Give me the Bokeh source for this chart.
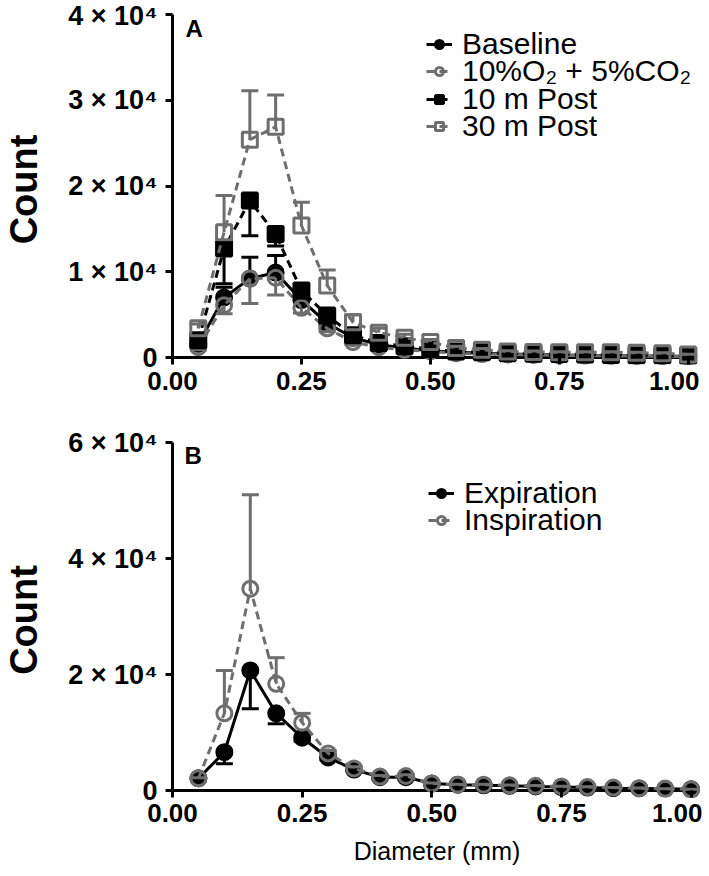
from bokeh.plotting import figure
from bokeh.layouts import column
from bokeh.models import Range1d, FixedTicker, Legend, LegendItem, Label
from bokeh.embed import file_html
from bokeh.resources import INLINE

# ---------------- data ----------------
diameter = [0.05, 0.10, 0.15, 0.20, 0.25, 0.30, 0.35, 0.40, 0.45, 0.50,
            0.55, 0.60, 0.65, 0.70, 0.75, 0.80, 0.85, 0.90, 0.95, 1.00]

# Panel A
baseline = [1600, 7000, 9200, 9900, 6700, 4000, 2300, 1500, 1100, 800,
            600, 500, 400, 350, 300, 250, 200, 200, 150, 150]
baseline_err = [300, 1200, 2500, 2000, 800, 500, 300, 200, 150, 100,
                100, 80, 60, 50, 50, 40, 40, 30, 30, 30]
hypox = [1200, 6100, 9200, 9300, 5800, 3400, 1800, 1200, 900, 700,
         500, 400, 350, 300, 250, 200, 200, 150, 150, 100]
hypox_err = [300, 1000, 2900, 2000, 600, 400, 300, 200, 150, 100,
             80, 60, 50, 50, 40, 40, 30, 30, 30, 20]
post10 = [2000, 12700, 18300, 14400, 7800, 4900, 2600, 1700, 1300, 1000,
          700, 600, 500, 450, 400, 350, 300, 250, 250, 200]
post10_err = [500, 4100, 4100, 1400, 700, 500, 300, 200, 150, 100,
              80, 60, 50, 50, 40, 40, 30, 30, 30, 20]
post30 = [3400, 14600, 25400, 26900, 15400, 8400, 4100, 2900, 2300, 1800,
          1100, 900, 700, 650, 600, 600, 600, 550, 500, 350]
post30_err = [500, 4300, 5700, 3700, 2700, 1800, 900, 500, 400, 300,
              200, 150, 100, 100, 80, 80, 60, 60, 50, 40]

# Panel B
expiration = [2100, 6600, 20700, 13300, 9100, 5700, 3600, 2300, 2300, 1200,
              1000, 900, 800, 700, 600, 500, 400, 350, 300, 200]
expiration_err = [100, 2000, 6600, 1800, 600, 400, 200, 100, 100, 80,
                  60, 50, 50, 40, 40, 30, 30, 20, 20, 20]
inspiration = [2100, 13300, 34800, 18400, 11700, 6400, 3800, 2400, 2500, 1200,
               1000, 1000, 900, 800, 700, 600, 500, 400, 300, 200]
inspiration_err = [100, 7400, 16200, 4500, 1600, 500, 300, 200, 200, 100,
                   80, 60, 50, 50, 40, 40, 30, 30, 20, 20]

x_ticks = [0, 0.25, 0.5, 0.75, 1.0]
x_tick_labels = ["0.00", "0.25", "0.50", "0.75", "1.00"]
yA_ticks = [0, 10000, 20000, 30000, 40000]
yA_labels = ["0", "1 × 10⁴", "2 × 10⁴", "3 × 10⁴", "4 × 10⁴"]
yB_ticks = [0, 20000, 40000, 60000]
yB_labels = ["0", "2 × 10⁴", "4 × 10⁴", "6 × 10⁴"]

labels_A = ["Baseline", "10%O₂ + 5%CO₂", "10 m Post", "30 m Post"]
labels_B = ["Expiration", "Inspiration"]
x_title = "Diameter (mm)"
y_title = "Count"

# ---------------- style ----------------
FONT = "Liberation Sans"
BLACK = "#000000"
GRAY = "#6e6e6e"
LW = 3
MS = 15
TICK = 7      # px: x ticks hang below the zero line; frame extends this far below y = 0
XEND = 1.02   # a little room right of 1.00 so the last markers are whole
ROW_TXT = 34  # approximate height of one legend row (text box) in px


def style_axes(p, yticks, ylabels, ymax, label_standoff, xlabel):
    # zero line acting as the x-axis rule (markers may overlap it, as in the original)
    p.segment(x0=[x_ticks[0]], y0=[0], x1=[x_ticks[-1]], y1=[0], line_color=BLACK,
              line_width=LW)
    p.xaxis.ticker = FixedTicker(ticks=x_ticks)
    p.xaxis.major_label_overrides = {t: l for t, l in zip(x_ticks, x_tick_labels)}
    p.yaxis.ticker = FixedTicker(ticks=yticks)
    p.yaxis.major_label_overrides = {t: l for t, l in zip(yticks, ylabels)}
    p.yaxis.bounds = (0, ymax)
    for ax in (p.xaxis[0], p.yaxis[0]):
        ax.axis_line_width = LW
        ax.axis_line_color = BLACK
        ax.major_tick_line_width = LW
        ax.major_tick_line_color = BLACK
        ax.minor_tick_line_color = None
        ax.major_label_text_font = FONT
        ax.major_label_text_font_style = "bold"
        ax.major_label_text_font_size = "26px"
        ax.major_label_text_color = BLACK
    p.yaxis.major_label_text_font_size = "27px"
    p.xaxis.axis_line_color = None
    p.xaxis.major_tick_in = TICK
    p.xaxis.major_tick_out = 0
    p.yaxis.major_tick_in = 0
    p.yaxis.major_tick_out = TICK
    p.xaxis.major_label_standoff = label_standoff
    p.yaxis.major_label_standoff = 8
    p.yaxis.axis_label = y_title
    p.yaxis.axis_label_text_font = FONT
    p.yaxis.axis_label_text_font_style = "bold"
    p.yaxis.axis_label_text_font_size = "38px"
    p.yaxis.axis_label_text_color = BLACK
    p.yaxis.axis_label_standoff = 20
    if xlabel:
        p.xaxis.axis_label = xlabel
        p.xaxis.axis_label_text_font = FONT
        p.xaxis.axis_label_text_font_style = "normal"
        p.xaxis.axis_label_text_font_size = "25px"
        p.xaxis.axis_label_text_color = BLACK
        p.xaxis.axis_label_standoff = 12
    p.xgrid.visible = False
    p.ygrid.visible = False
    p.outline_line_color = None
    p.background_fill_color = "white"
    p.border_fill_color = "white"


def series(p, y, err, direction, color, marker, filled, dash):
    tops = [v + e for v, e in zip(y, err)] if direction > 0 else [v - e for v, e in zip(y, err)]
    p.segment(x0=diameter, y0=y, x1=diameter, y1=tops, line_color=color, line_width=LW)
    p.scatter(x=diameter, y=tops, marker="dash", size=17, line_color=color, line_width=LW)
    line = p.line(x=diameter, y=y, line_color=color, line_width=LW, line_dash=dash)
    if filled:
        mk = p.scatter(x=diameter, y=y, marker=marker, size=MS, fill_color=color,
                       line_color=color, line_width=LW)
    else:
        mk = p.scatter(x=diameter, y=y, marker=marker, size=MS, fill_alpha=0,
                       line_color=color, line_width=LW)
    return [line, mk]


def legend_rows(p, labels, renderer_sets, lx, first_center, step, top_border, frame_h):
    # one single-row legend per entry, so rows can sit as close as in the original
    for i, (lab, rs) in enumerate(zip(labels, renderer_sets)):
        center = first_center + i * step - top_border          # px below frame top
        ly = frame_h - center - ROW_TXT / 2
        lg = Legend(items=[LegendItem(label=lab, renderers=rs)], location=(lx, ly),
                    padding=0, spacing=0, margin=0,
                    label_text_font=FONT, label_text_font_size="30px",
                    label_text_color=BLACK, label_height=20, glyph_height=20,
                    glyph_width=26, label_standoff=10,
                    background_fill_alpha=0, border_line_color=None)
        p.add_layout(lg, "center")


# ---------------- Panel A ----------------
A_H = 404
A_top, A_span = 14, 343          # px from canvas top to 4e4, px from 4e4 to 0
A_pad = TICK * 40000 / A_span
A_fh = A_span + TICK
pA = figure(frame_width=round(516 * XEND), frame_height=A_fh, output_backend="svg",
            toolbar_location=None,
            x_range=Range1d(0, XEND), y_range=Range1d(-A_pad, 40000),
            min_border_left=160, min_border_right=1, min_border_top=A_top,
            min_border_bottom=A_H - A_top - A_fh)
style_axes(pA, yA_ticks, yA_labels, 40000, 7, None)

rA1 = series(pA, baseline, baseline_err, +1, BLACK, "circle", True, "solid")
rA2 = series(pA, hypox, hypox_err, -1, GRAY, "circle", False, "8 5")
rA3 = series(pA, post10, post10_err, -1, BLACK, "square", True, "8 5")
rA4 = series(pA, post30, post30_err, +1, GRAY, "square", False, "8 5")

legend_rows(pA, labels_A, [rA1, rA2, rA3, rA4], 254, 44, 27.3, A_top, A_fh)
pA.add_layout(Label(x=13, y=323, x_units="screen", y_units="screen", text="A",
                    text_font=FONT, text_font_style="bold", text_font_size="24px",
                    text_color=BLACK))

# ---------------- Panel B ----------------
B_H = 470
B_top, B_span = 442 - A_H, 348
B_pad = TICK * 60000 / B_span
B_fh = B_span + TICK
pB = figure(frame_width=round(519 * XEND), frame_height=B_fh, output_backend="svg",
            toolbar_location=None,
            x_range=Range1d(0, XEND), y_range=Range1d(-B_pad, 60000),
            min_border_left=154, min_border_right=1, min_border_top=B_top,
            min_border_bottom=B_H - B_top - B_fh)
style_axes(pB, yB_ticks, yB_labels, 60000, 6, x_title)

rB1 = series(pB, expiration, expiration_err, -1, BLACK, "circle", True, "solid")
rB2 = series(pB, inspiration, inspiration_err, +1, GRAY, "circle", False, "8 5")

legend_rows(pB, labels_B, [rB1, rB2], 256, 493 - A_H, 27.3, B_top, B_fh)
pB.add_layout(Label(x=12, y=329, x_units="screen", y_units="screen", text="B",
                    text_font=FONT, text_font_style="bold", text_font_size="24px",
                    text_color=BLACK))

layout = column(pA, pB, spacing=0)
open("out.html", "w").write(file_html(layout, INLINE))
